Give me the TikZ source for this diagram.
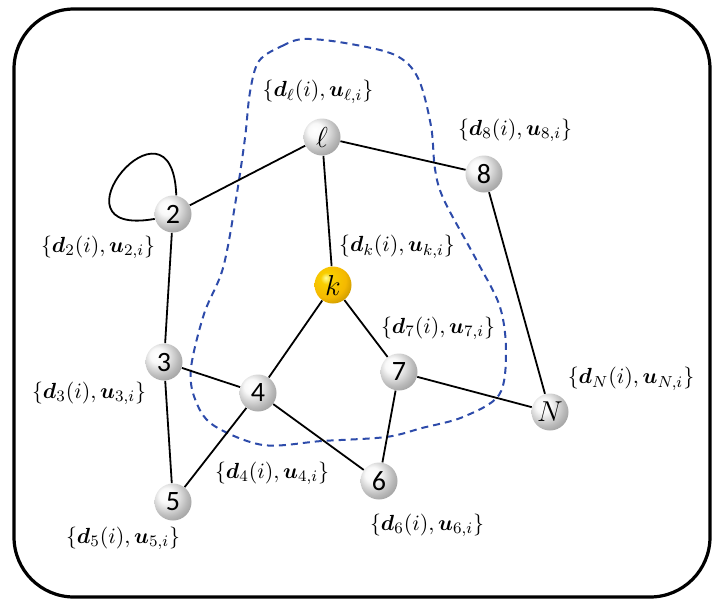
\documentclass[tikz,border=0pt]{standalone}
\usepackage{amsmath,bm}
\usepackage{fontspec}
\newfontfamily\digitfont{Carlito}
\definecolor{regionblue}{RGB}{45,75,170}
\definecolor{kgold}{RGB}{245,185,0}
\pgfdeclareradialshading{silverball}{\pgfpoint{-10bp}{10bp}}{color(0bp)=(white); color(10bp)=(white!95!gray); color(26bp)=(gray!55); color(42bp)=(gray!95); color(75bp)=(gray!80!black)}
\pgfdeclareradialshading{goldball}{\pgfpoint{-10bp}{10bp}}{color(0bp)=(yellow!40!white); color(8bp)=(kgold!70!yellow); color(24bp)=(kgold); color(38bp)=(kgold!75!black); color(75bp)=(kgold!45!black)}
\begin{document}
\begin{tikzpicture}[x=0.5pt,y=-0.5pt,
	agent/.style={circle,inner sep=0pt,minimum size=18.5pt,shading=silverball,font=\digitfont\fontsize{14}{16}\selectfont},
	link/.style={line width=0.9pt},
	info/.style={inner sep=1pt,font=\fontsize{11.4}{14}\selectfont}]
	\useasboundingbox (0,0) rectangle (712,601);
	\draw[line width=1.6pt,rounded corners=30pt] (14,9) rectangle (710,597);
	% neighbourhood of k
	\draw[regionblue,line width=1pt,dash pattern=on 3.5pt off 2.5pt] plot[smooth cycle,tension=0.55] coordinates {
		(259,61) (282,46) (304,39) (345,43) (395,55) (418,78) (431,126) (435,169) (444,200)
		(477,261) (500,307) (506,353) (499,395) (463,417) (422,428) (386,437) (322,441)
		(263,445) (213,425) (195,399) (191,368) (204,314) (223,268) (236,199) (245,138) (250,92)};
	% agents
	\node[agent] (nl) at (322,137) {$\ell$};
	\node[agent] (n8) at (484,174) {8};
	\node[agent] (n2) at (173,214) {2};
	\node[agent,shading=goldball] (nk) at (333,285) {$k$};
	\node[agent] (n3) at (164,362) {3};
	\node[agent] (n4) at (258,393) {4};
	\node[agent] (n7) at (399,372) {7};
	\node[agent] (nN) at (550,412) {$N$};
	\node[agent] (n5) at (173,502) {5};
	\node[agent] (n6) at (379,481) {6};
	% links
	\foreach \a/\b in {nl/n2,nl/n8,nl/nk,n2/n3,n3/n4,n3/n5,nk/n4,nk/n7,n4/n5,n4/n6,n7/n6,n7/nN,n8/nN} {
		\draw[link] (\a) -- (\b);
	};
	\draw[link] (n2.80) to[out=92,in=190,min distance=57pt] (n2.195);
	% data
	\node[info] (dl) at (318,92) {$\{\bm{d}_\ell(i),\bm{u}_{\ell,i}\}$};
	\node[info] (d8) at (515,130) {$\{\bm{d}_8(i),\bm{u}_{8,i}\}$};
	\node[info] (d2) at (98,247) {$\{\bm{d}_2(i),\bm{u}_{2,i}\}$};
	\node[info] (dk) at (397,247) {$\{\bm{d}_k(i),\bm{u}_{k,i}\}$};
	\node[info] (d7) at (438,328) {$\{\bm{d}_7(i),\bm{u}_{7,i}\}$};
	\node[info] (d3) at (89,393) {$\{\bm{d}_3(i),\bm{u}_{3,i}\}$};
	\node[info] (dN) at (631,379) {$\{\bm{d}_N(i),\bm{u}_{N,i}\}$};
	\node[info] (d4) at (272,473) {$\{\bm{d}_4(i),\bm{u}_{4,i}\}$};
	\node[info] (d5) at (123,538) {$\{\bm{d}_5(i),\bm{u}_{5,i}\}$};
	\node[info] (d6) at (427,525) {$\{\bm{d}_6(i),\bm{u}_{6,i}\}$};
\end{tikzpicture}
\end{document}
